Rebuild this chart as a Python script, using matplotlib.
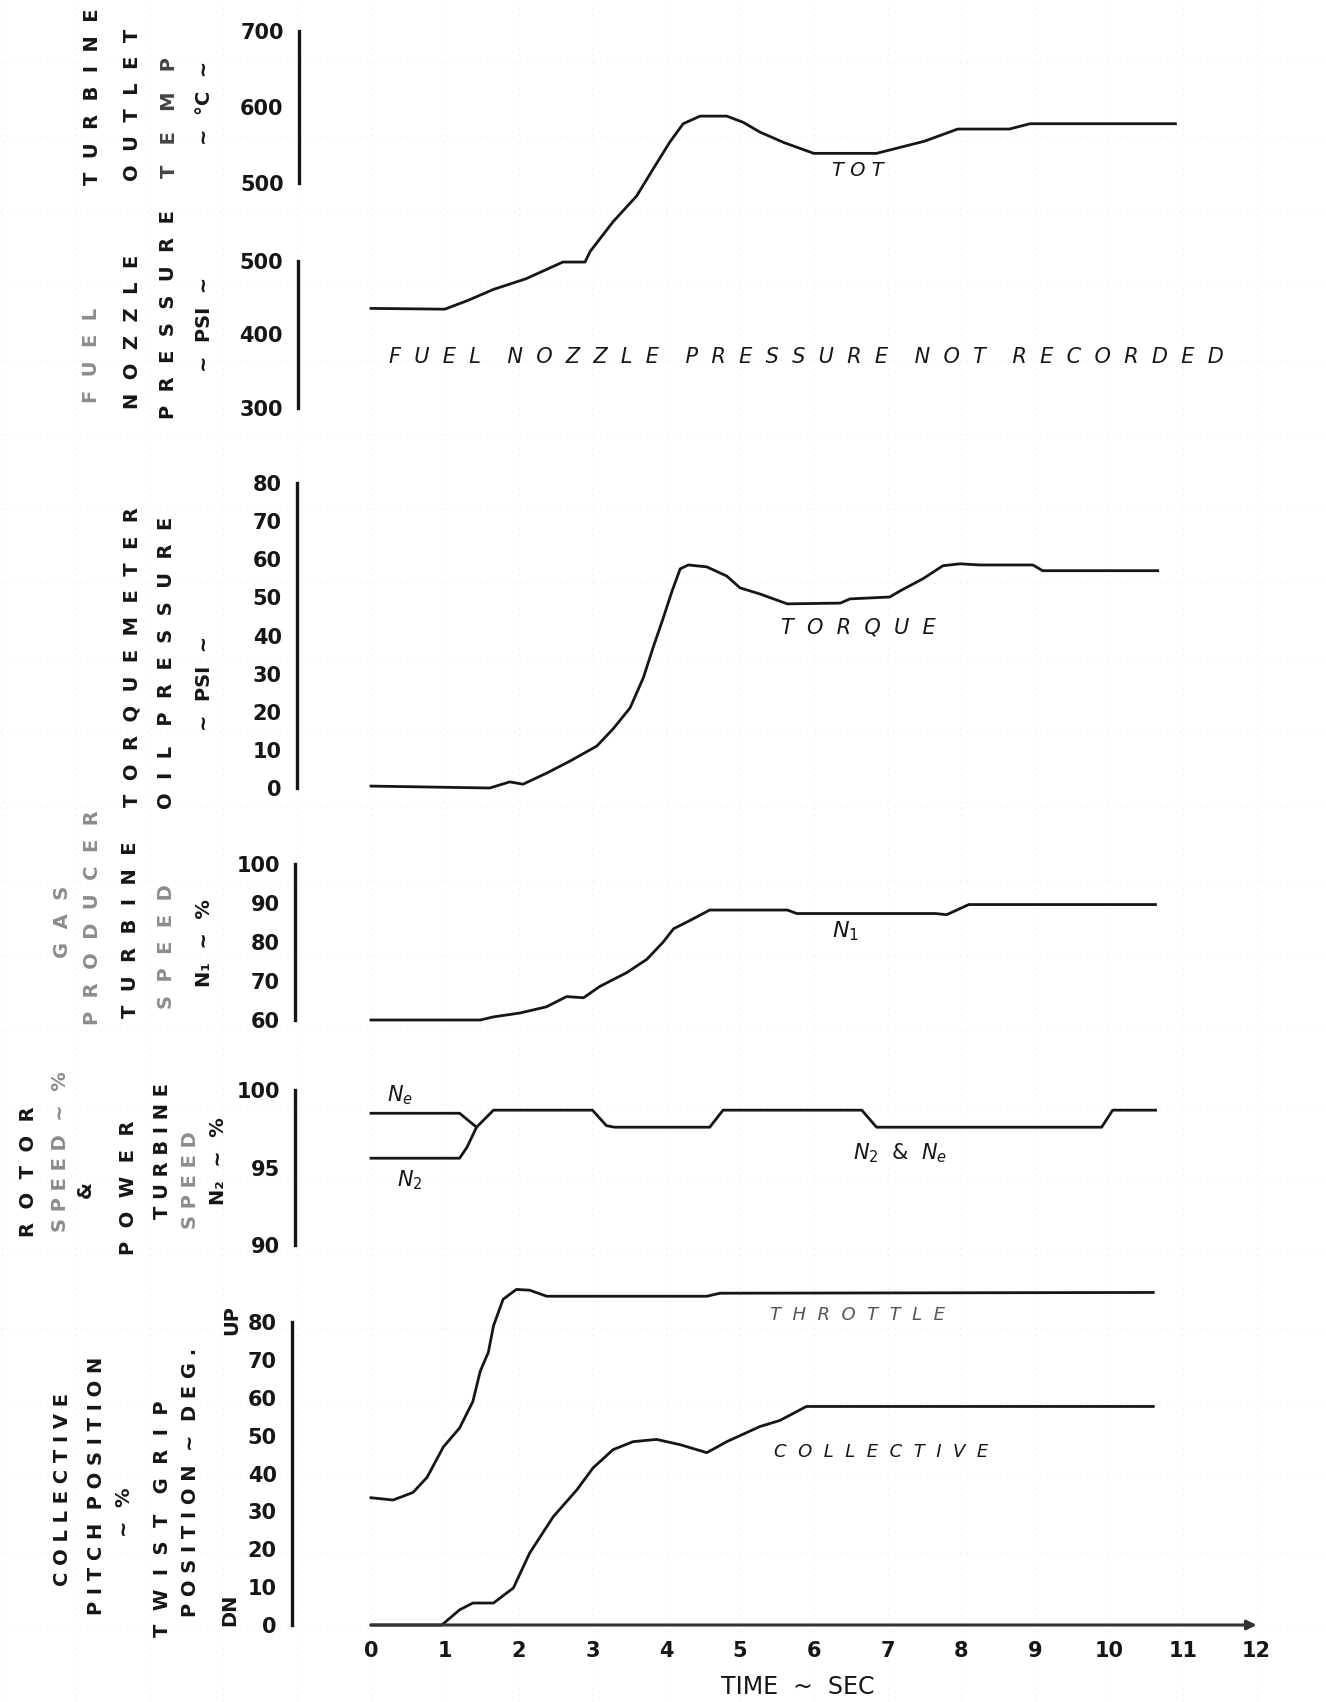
import numpy as np
import matplotlib.pyplot as plt

# engine response to a collective/throttle step, time in seconds

# turbine outlet temperature, deg C
tot_t = [0, 1.0, 1.3, 1.66, 2.1, 2.6, 2.9, 2.97, 3.28, 3.6, 3.82, 4.05, 4.23, 4.46,
         4.82, 5.04, 5.27, 5.6, 6.0, 6.85, 7.5, 7.95, 8.65, 8.93, 10.9]
tot_v = [335, 334, 345, 360, 374, 396, 396, 410, 449, 483, 518, 554, 578, 588,
         588, 580, 567, 553, 539, 539, 555, 571, 571, 578, 578]

# torquemeter oil pressure, psi
trq_t = [0, 1.61, 1.88, 2.06, 2.38, 2.7, 3.06, 3.28, 3.51, 3.69, 3.82, 3.96, 4.08,
         4.19, 4.3, 4.55, 4.82, 5.0, 5.27, 5.64, 6.36, 6.49, 7.03, 7.17, 7.48, 7.75,
         7.98, 8.25, 8.97, 9.1, 10.66]
trq_v = [0.5, 0, 1.6, 1.0, 3.9, 7.1, 11, 15.5, 21, 28.9, 36.7, 44.6, 51.7,
         57.5, 58.5, 58, 55.6, 52.5, 50.9, 48.3, 48.5, 49.6, 50.1, 51.7, 54.9, 58.3,
         58.8, 58.5, 58.5, 57, 57]

# gas producer speed N1, %
n1_t = [0, 1.48, 1.66, 2.02, 2.38, 2.65, 2.88, 3.1, 3.47, 3.74, 3.96, 4.1, 4.32,
        4.59, 5.64, 5.77, 7.65, 7.8, 8.1, 10.63]
n1_v = [60, 60, 60.8, 61.8, 63.4, 66, 65.7, 68.6, 72.2, 75.6, 80, 83.4, 85.5,
        88.2, 88.2, 87.3, 87.3, 87.0, 89.6, 89.6]

# rotor speed Ne, % (joins N2 once the clutch engages)
ne_t = [0, 1.2, 1.43]
ne_v = [98.5, 98.5, 97.6]

# power turbine speed N2, %
n2_t = [0, 1.2, 1.3, 1.43, 1.66, 3.0, 3.19, 3.3, 4.59, 4.77, 6.65, 6.85, 9.9, 10.05, 10.63]
n2_v = [95.6, 95.6, 96.3, 97.6, 98.7, 98.7, 97.7, 97.6, 97.6, 98.7, 98.7, 97.6, 97.6, 98.7, 98.7]

# twist grip (throttle) position, deg
thr_t = [0, 0.3, 0.57, 0.76, 0.98, 1.2, 1.38, 1.48, 1.59, 1.66, 1.79, 1.97, 2.15,
         2.38, 4.55, 4.73, 10.6]
thr_v = [33.6, 33, 35, 39, 47, 52, 59, 67, 72, 79, 86, 88.6, 88.4,
         86.8, 86.8, 87.6, 87.8]

# collective pitch position, %
col_t = [0, 0.96, 1.2, 1.38, 1.66, 1.93, 2.15, 2.47, 2.79, 3.01, 3.28, 3.55, 3.87,
         4.19, 4.55, 4.82, 5.27, 5.54, 5.9, 10.6]
col_v = [0, 0, 4, 5.8, 5.8, 9.8, 19, 28.6, 35.7, 41.5, 46.3, 48.4, 49,
         47.6, 45.5, 48.4, 52.4, 54, 57.7, 57.7]

time_ticks = list(range(13))

INK = '#161616'
FADE = '#8c8c8c'

W, H = 1326, 1702
X0, PPS = 371, 73.8     # pixel column of t=0, pixels per second
RIGHT = 1275

fig = plt.figure(figsize=(W / 100, H / 100), dpi=100)
fig.patch.set_facecolor('white')


def spaced(s, gap=2, word_gap=4):
    return (' ' * word_gap).join((' ' * gap).join(w) for w in s.split(' '))


def ftext(x, y, s, **kw):
    fig.text(x / W, 1 - y / H, s, ha='center', va='center', **kw)


def panel(spine_x, v_lo, row_lo, v_hi, row_hi, ylim, ticks):
    ppu = (row_lo - row_hi) / (v_hi - v_lo)
    bot = row_lo + (v_lo - ylim[0]) * ppu
    top = row_lo - (ylim[1] - v_lo) * ppu
    ax = fig.add_axes([spine_x / W, 1 - bot / H, (RIGHT - spine_x) / W, (bot - top) / H])
    ax.set_xlim((spine_x - X0) / PPS, (RIGHT - X0) / PPS)
    ax.set_ylim(*ylim)
    ax.patch.set_alpha(0)
    for s in ['top', 'right', 'bottom']:
        ax.spines[s].set_visible(False)
    ax.spines['left'].set_bounds(v_lo, v_hi)
    ax.spines['left'].set_linewidth(2.4)
    ax.spines['left'].set_color(INK)
    ax.set_xticks([])
    ax.set_yticks(ticks)
    ax.tick_params(axis='y', length=0, pad=11, labelsize=15, labelcolor=INK)
    for lab in ax.get_yticklabels():
        lab.set_fontweight('bold')
    return ax


# faint graph paper
bg = fig.add_axes([0, 0, 1, 1], zorder=-5)
bg.set_xlim(0, W)
bg.set_ylim(H, 0)
bg.axis('off')
for k in range(-5, 14):
    bg.axvline(X0 + k * PPS, color='#ececec', lw=0.8, ls=(0, (1, 5)))
for k in range(0, 23):
    bg.axhline(1626 - k * 74.5, color='#ececec', lw=0.8, ls=(0, (1, 5)))

lw = 2.0

ax_tot = panel(299, 500, 183, 700, 31, (300, 720), [500, 600, 700])
ax_tot.plot(tot_t, tot_v, color=INK, lw=lw)

ax_fuel = panel(298, 300, 408, 500, 261, (290, 510), [300, 400, 500])

ax_trq = panel(297, 0, 788, 80, 483, (-5, 85), list(range(0, 81, 10)))
ax_trq.plot(trq_t, trq_v, color=INK, lw=lw)

ax_n1 = panel(295, 60, 1020, 100, 864, (55, 102), [60, 70, 80, 90, 100])
ax_n1.plot(n1_t, n1_v, color=INK, lw=lw)

ax_n2 = panel(295, 90, 1245, 100, 1090, (89, 101), [90, 95, 100])
ax_n2.plot(ne_t, ne_v, color=INK, lw=lw)
ax_n2.plot(n2_t, n2_v, color=INK, lw=lw)

ax_ctl = panel(292, 0, 1625, 80, 1322, (-3, 92), list(range(0, 81, 10)))
ax_ctl.plot(thr_t, thr_v, color=INK, lw=lw)
ax_ctl.plot(col_t, col_v, color=INK, lw=lw)
ax_ctl.annotate('', xy=(12, 0), xytext=(0, 0),
                arrowprops=dict(arrowstyle='-|>', color='#333333', lw=2.2,
                                mutation_scale=14, shrinkA=0, shrinkB=0))
ax_ctl.set_xticks(time_ticks)
ax_ctl.tick_params(axis='x', length=0, pad=3, labelsize=15, labelcolor=INK)
for lab in ax_ctl.get_xticklabels():
    lab.set_fontweight('bold')
ftext(798, 1687, 'TIME  ~  SEC', fontsize=17, color=INK)

# rotated axis titles: text, x, y, letter gap, colour
titles = [
    ('TURBINE', 93, 97, 2, INK), ('OUTLET', 133, 105, 2, INK),
    ('TEMP', 170, 118, 3, '#444444'), ('~  °C  ~', 205, 103, 0, INK),
    ('FUEL', 91, 355, 2, FADE), ('NOZZLE', 133, 332, 2, INK),
    ('PRESSURE', 168, 315, 2, INK), ('~  PSI  ~', 205, 324, 0, INK),
    ('TORQUEMETER', 132, 657, 2, INK), ('OIL PRESSURE', 167, 663, 2, INK),
    ('~  PSI  ~', 205, 683, 0, INK),
    ('GAS', 62, 922, 2, FADE), ('PRODUCER', 93, 918, 2, FADE),
    ('TURBINE', 130, 930, 2, INK), ('SPEED', 167, 947, 2, FADE),
    ('N₁  ~  %', 205, 943, 0, INK),
    ('ROTOR', 28, 1172, 2, INK), ('SPEED ~ %', 60, 1152, 1, FADE),
    ('&', 85, 1190, 0, INK), ('POWER', 128, 1188, 2, INK),
    ('TURBINE', 163, 1151, 1, INK), ('SPEED', 190, 1180, 1, FADE),
    ('N₂  ~  %', 218, 1161, 0, INK),
    ('COLLECTIVE', 62, 1490, 1, INK), ('PITCH POSITION', 97, 1486, 1, INK),
    ('~  %', 125, 1512, 0, INK), ('TWIST GRIP', 162, 1519, 2, INK),
    ('POSITION ~ DEG.', 190, 1482, 1, INK),
    ('UP', 232, 1320, 0, INK), ('DN', 230, 1610, 0, INK),
]
for s, x, y, g, c in titles:
    txt = spaced(s, g, max(g, 1) + 1) if g else s
    ftext(x, y, txt, rotation=90, fontsize=14, fontweight='bold', color=c)

# trace labels
ftext(806, 357, spaced('FUEL NOZZLE PRESSURE NOT RECORDED'), fontsize=15,
      style='italic', color=INK)
ftext(858, 170, spaced('TOT', 1), fontsize=14, style='italic', color=INK)
ftext(858, 627, spaced('TORQUE'), fontsize=15, style='italic', color=INK)
ftext(846, 931, '$N_1$', fontsize=16, color=INK)
ftext(400, 1095, '$N_e$', fontsize=15, color=INK)
ftext(410, 1180, '$N_2$', fontsize=15, color=INK)
ftext(900, 1153, '$N_2$  &  $N_e$', fontsize=15, color=INK)
ftext(857, 1315, spaced('THROTTLE'), fontsize=13, style='italic', color='#555555')
ftext(881, 1452, spaced('COLLECTIVE'), fontsize=13, style='italic', color=INK)

fig.savefig('out.png', dpi=100)
